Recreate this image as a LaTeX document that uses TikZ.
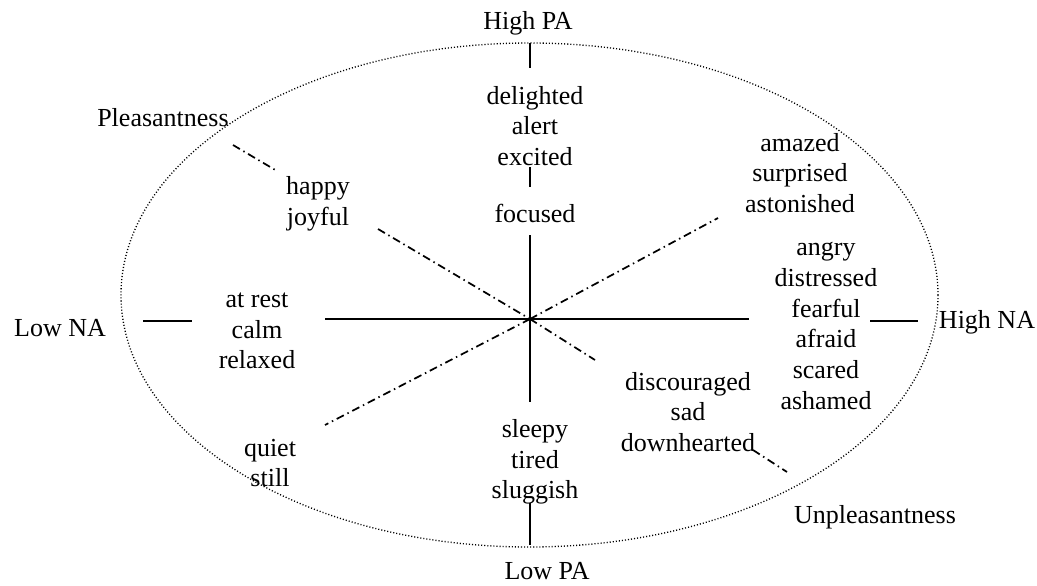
\documentclass[tikz,border=0pt]{standalone}
\usepackage{fontspec}
\setmainfont{Liberation Serif}
\begin{document}
\begin{tikzpicture}[x=0.75pt,y=-0.75pt,
  lbl/.style={align=center, inner sep=0pt, font=\fontsize{19.5}{23}\selectfont},
  solidline/.style={line width=1.4pt},
  dashdot/.style={line width=1.3pt, dash pattern=on 6pt off 3pt on 1.1pt off 3pt},
  dotline/.style={line width=1pt, dash pattern=on 0.8pt off 1.5pt}]
\useasboundingbox (0,0) rectangle (1037,585);
% outer dotted ellipse
\draw[dotline] (529.5,295) ellipse [x radius=408.5, y radius=252];

% labels
\node[lbl] (highpa) at (528,23) {High PA};
\node[lbl] (delight) at (535,126) {delighted\\alert\\excited};
\node[lbl] (focused) at (535,213) {focused};
\node[lbl] (pleas) at (163,118) {Pleasantness};
\node[lbl] (happy) at (318,204) {happy\\joyful};
\node[lbl] (amazed) at (800,173) {amazed\\surprised\\astonished};
\node[lbl] (lowna) at (60,328) {Low NA};
\node[lbl] (atrest) at (257,331) {at rest\\calm\\relaxed};
\node[lbl] (angry) at (826,326) {angry\\distressed\\fearful\\afraid\\scared\\ashamed};
\node[lbl] (highna) at (987,322) {High NA};
\node[lbl] (quiet) at (270,463) {quiet\\still};
\node[lbl] (sleepy) at (535,462) {sleepy\\tired\\sluggish};
\node[lbl] (discour) at (688,412) {discouraged\\sad\\downhearted};
\node[lbl] (unpleas) at (875,517) {Unpleasantness};
\node[lbl] (lowpa) at (547,571) {Low PA};

% coordinates
\coordinate (c) at (530,319);
\coordinate (vt1) at (530,43);  \coordinate (vt2) at (530,68);
\coordinate (vm1) at (530,167); \coordinate (vm2) at (530,187);
\coordinate (vc1) at (530,235); \coordinate (vc2) at (530,402);
\coordinate (vb1) at (530,503); \coordinate (vb2) at (530,545);
\coordinate (hl1) at (143,321); \coordinate (hl2) at (192,321);
\coordinate (hc1) at (325,319); \coordinate (hc2) at (749,319);
\coordinate (hr1) at (870,321); \coordinate (hr2) at (918,321);
\coordinate (ul1) at (233,145); \coordinate (ul2) at (277,171);
\coordinate (ul3) at (378,229);
\coordinate (ur1) at (718,218);
\coordinate (ll1) at (325,425);
\coordinate (lr1) at (595,360);
\coordinate (lr2) at (753,450); \coordinate (lr3) at (787,472);

% solid axes
\draw[solidline] (vt1) -- (vt2);
\draw[solidline] (vm1) -- (vm2);
\draw[solidline] (vc1) -- (vc2);
\draw[solidline] (vb1) -- (vb2);
\draw[solidline] (hl1) -- (hl2);
\draw[solidline] (hc1) -- (hc2);
\draw[solidline] (hr1) -- (hr2);

% dash-dot diagonals
\draw[dashdot] (ul1) -- (ul2);
\draw[dashdot] (ul3) -- (c);
\draw[dashdot] (c) -- (ur1);
\draw[dashdot] (c) -- (ll1);
\draw[dashdot] (c) -- (lr1);
\draw[dashdot] (lr2) -- (lr3);
\end{tikzpicture}
\end{document}
